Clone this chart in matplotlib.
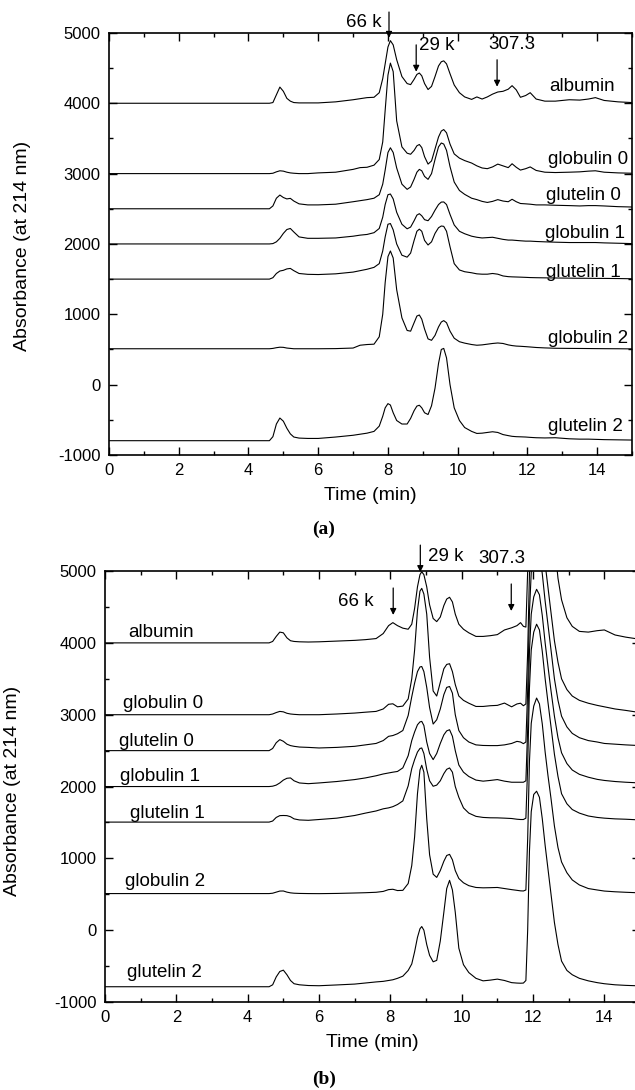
import matplotlib
matplotlib.use("Agg")
import matplotlib.pyplot as plt
from matplotlib.ticker import MultipleLocator

plt.rcParams['font.family'] = ['Liberation Sans', 'DejaVu Sans']
plt.rcParams['axes.unicode_minus'] = False

names = ['albumin', 'globulin 0', 'glutelin 0', 'globulin 1',
         'glutelin 1', 'globulin 2', 'glutelin 2']

# ---- panel (a): absorbance (offset traces)
time_a = [0, 4.6, 4.7, 4.8, 4.9, 5.0, 5.1, 5.2, 5.3, 5.45,
          5.7, 6.0, 6.5, 7.0, 7.2, 7.4, 7.6, 7.75, 7.85, 7.92,
          8.0, 8.07, 8.15, 8.25, 8.4, 8.55, 8.65, 8.75, 8.83, 8.9,
          8.97, 9.05, 9.15, 9.25, 9.35, 9.45, 9.53, 9.6, 9.68, 9.78,
          9.9, 10.05, 10.2, 10.4, 10.55, 10.7, 10.85, 11.0, 11.15, 11.3,
          11.45, 11.56, 11.68, 11.8, 11.95, 12.08, 12.25, 12.5, 12.8, 13.2,
          13.5, 13.75, 13.95, 14.2, 14.6, 15.0]

a_albumin = [4000, 4000, 4010, 4120, 4230, 4170, 4070, 4030, 4010, 4005,
             4005, 4005, 4020, 4050, 4065, 4080, 4085, 4150, 4350, 4560,
             4800, 4890, 4830, 4620, 4380, 4280, 4265, 4340, 4410, 4430,
             4390, 4280, 4195, 4240, 4380, 4530, 4590, 4603, 4560, 4420,
             4260, 4150, 4090, 4055, 4090, 4060, 4090, 4130, 4160, 4170,
             4200, 4250, 4190, 4085, 4110, 4150, 4060, 4030, 4030, 4050,
             4045, 4060, 4080, 4040, 4020, 4010]
a_globulin0 = [3000, 3000, 3005, 3025, 3040, 3035, 3020, 3010, 3005, 3000,
               3000, 3010, 3020, 3060, 3085, 3090, 3120, 3200, 3450, 3900,
               4400, 4571, 4450, 3750, 3380, 3290, 3275, 3330, 3395, 3414,
               3370, 3240, 3135, 3180, 3350, 3520, 3605, 3626, 3580, 3420,
               3280, 3220, 3185, 3150, 3110, 3080, 3070, 3095, 3135, 3110,
               3085, 3140, 3090, 3050, 3070, 3095, 3045, 3020, 3015, 3020,
               3025, 3035, 3040, 3020, 3010, 3005]
a_glutelin0 = [2500, 2500, 2540, 2650, 2695, 2660, 2640, 2648, 2610, 2570,
               2555, 2555, 2565, 2600, 2615, 2630, 2650, 2700, 2850, 3050,
               3300, 3367, 3300, 3080, 2850, 2776, 2810, 2920, 3020, 3060,
               3040, 2960, 2918, 3000, 3200, 3380, 3435, 3420, 3330, 3100,
               2880, 2760, 2705, 2650, 2630, 2605, 2590, 2605, 2630, 2610,
               2600, 2635, 2600, 2575, 2570, 2565, 2555, 2555, 2550, 2545,
               2540, 2545, 2545, 2540, 2530, 2525]
a_globulin1 = [2000, 2000, 2005, 2030, 2080, 2150, 2205, 2220, 2170, 2100,
               2080, 2080, 2085, 2110, 2125, 2135, 2160, 2220, 2380, 2560,
               2700, 2710, 2640, 2450, 2280, 2215, 2240, 2330, 2410, 2430,
               2400, 2345, 2330, 2390, 2480, 2560, 2595, 2597, 2560, 2420,
               2270, 2180, 2145, 2110, 2095, 2085, 2090, 2095, 2080, 2065,
               2055, 2055, 2050, 2045, 2040, 2040, 2035, 2030, 2025, 2020,
               2020, 2020, 2020, 2015, 2010, 2005]
a_glutelin1 = [1500, 1500, 1520, 1580, 1615, 1625, 1645, 1652, 1620, 1580,
               1568, 1565, 1575, 1600, 1620, 1640, 1667, 1720, 1900, 2100,
               2280, 2290, 2200, 2000, 1840, 1812, 1870, 2050, 2180, 2210,
               2180, 2050, 1985, 2030, 2150, 2230, 2255, 2250, 2180, 1960,
               1720, 1630, 1605, 1590, 1575, 1570, 1570, 1580, 1570, 1545,
               1535, 1532, 1530, 1528, 1525, 1522, 1520, 1518, 1516, 1514,
               1512, 1512, 1510, 1510, 1508, 1505]
a_globulin2 = [510, 510, 515, 525, 532, 530, 520, 515, 510, 510,
               510, 510, 512, 520, 560, 570, 575, 680, 1000, 1450,
               1820, 1900, 1800, 1350, 950, 770, 760, 880, 975, 990,
               930, 790, 650, 630, 700, 820, 890, 910, 880, 760,
               660, 610, 590, 570, 560, 565, 575, 585, 592, 585,
               565, 555, 548, 545, 540, 535, 528, 522, 517, 515,
               514, 513, 512, 511, 510, 508]
a_glutelin2 = [-797, -797, -740, -560, -475, -520, -620, -700, -745, -760,
               -765, -765, -745, -720, -705, -690, -665, -590, -450, -330,
               -270, -290, -400, -510, -560, -560, -480, -370, -305, -293,
               -330, -400, -425, -300, -50, 300, 500, 515, 380, 0,
               -330, -510, -610, -665, -694, -690, -680, -670, -680, -710,
               -725, -735, -740, -742, -745, -750, -755, -758, -755, -770,
               -775, -775, -778, -782, -785, -788]

# ---- panel (b)
time_b = [0, 4.6, 4.7, 4.8, 4.9, 5.0, 5.1, 5.2, 5.3, 5.45,
          5.7, 6.0, 6.5, 7.0, 7.3, 7.6, 7.8, 7.95, 8.07, 8.2,
          8.35, 8.5, 8.6, 8.68, 8.76, 8.83, 8.88, 8.94, 9.02, 9.1,
          9.2, 9.3, 9.4, 9.5, 9.58, 9.66, 9.74, 9.82, 9.92, 10.05,
          10.2, 10.4, 10.6, 10.8, 11.0, 11.2, 11.4, 11.55, 11.65, 11.73,
          11.8, 11.85, 11.9, 11.95, 12.02, 12.1, 12.18, 12.26, 12.34, 12.42,
          12.5, 12.6, 12.7, 12.8, 12.95, 13.1, 13.3, 13.55, 13.8, 14.0,
          14.3, 14.6, 15.0]

b_albumin = [4000, 4000, 4020, 4090, 4150, 4140, 4070, 4030, 4020, 4015,
             4012, 4015, 4025, 4035, 4045, 4060, 4130, 4240, 4282, 4240,
             4205, 4190, 4260, 4480, 4780, 4950, 4990, 4950, 4780, 4530,
             4340, 4296, 4360, 4520, 4610, 4635, 4570, 4400, 4260, 4190,
             4140, 4090, 4090, 4100, 4115, 4180, 4210, 4240, 4282, 4230,
             4220, 5000, 6300, 7200, 7700, 7900, 7850, 7600, 7200, 6700,
             6100, 5400, 4900, 4600, 4350, 4230, 4160, 4150, 4170, 4180,
             4110, 4080, 4050]
b_globulin0 = [3000, 3000, 3010, 3030, 3046, 3040, 3020, 3010, 3005, 3000,
               3000, 3000, 3010, 3023, 3035, 3046, 3080, 3145, 3152, 3110,
               3120, 3220, 3500, 3900, 4450, 4720, 4759, 4680, 4400, 3800,
               3330, 3260, 3450, 3640, 3700, 3710, 3600, 3420, 3260, 3200,
               3160, 3115, 3115, 3125, 3130, 3162, 3110, 3150, 3160, 3125,
               3150, 3870, 4960, 5500, 5750, 5865, 5780, 5480, 5100, 4770,
               4440, 4030, 3730, 3500, 3350, 3260, 3200, 3160, 3130, 3110,
               3080, 3060, 3030]
b_glutelin0 = [2500, 2500, 2530, 2610, 2653, 2630, 2590, 2570, 2560, 2550,
               2545, 2537, 2545, 2560, 2580, 2600, 2640, 2699, 2710, 2735,
               2780, 2990, 3250, 3440, 3600, 3665, 3671, 3600, 3380, 3100,
               2870, 2930, 3080, 3280, 3380, 3393, 3300, 3000, 2780, 2680,
               2620, 2580, 2572, 2570, 2570, 2580, 2600, 2629, 2620, 2597,
               2620, 3340, 4430, 4980, 5220, 5340, 5260, 4960, 4580, 4250,
               3920, 3500, 3200, 2980, 2830, 2740, 2680, 2640, 2620, 2600,
               2590, 2580, 2570]
b_globulin1 = [2000, 2000, 2005, 2020, 2050, 2090, 2115, 2120, 2080, 2050,
               2040, 2050, 2070, 2097, 2120, 2150, 2175, 2189, 2200, 2210,
               2260, 2430, 2640, 2760, 2860, 2900, 2907, 2850, 2620, 2460,
               2375, 2460, 2600, 2720, 2775, 2791, 2700, 2500, 2300, 2200,
               2140, 2090, 2075, 2085, 2097, 2075, 2060, 2060, 2060, 2060,
               2080, 2800, 3880, 4400, 4640, 4746, 4670, 4380, 4000, 3670,
               3350, 2980, 2680, 2470, 2320, 2230, 2170, 2130, 2100, 2085,
               2070, 2060, 2050]
b_glutelin1 = [1505, 1505, 1520, 1570, 1595, 1597, 1595, 1580, 1550, 1535,
               1530, 1541, 1560, 1597, 1630, 1660, 1690, 1703, 1720, 1750,
               1800, 2010, 2250, 2375, 2480, 2530, 2537, 2460, 2240, 2080,
               2004, 2020, 2080, 2180, 2240, 2259, 2200, 2000, 1850, 1703,
               1630, 1585, 1570, 1565, 1564, 1560, 1555, 1545, 1541, 1541,
               1560, 2280, 3370, 3900, 4150, 4260, 4180, 3880, 3500, 3170,
               2850, 2450, 2140, 1900, 1760, 1680, 1630, 1590, 1570, 1560,
               1550, 1545, 1535]
b_globulin2 = [510, 510, 515, 530, 545, 546, 530, 520, 515, 512,
               510, 509, 512, 518, 522, 528, 540, 565, 570, 552,
               555, 650, 900, 1300, 1900, 2230, 2296, 2200, 1550, 1050,
               780, 735, 830, 960, 1040, 1056, 980, 830, 720, 660,
               620, 595, 590, 592, 595, 580, 565, 555, 548, 546,
               560, 1270, 2350, 2880, 3120, 3232, 3150, 2870, 2480, 2150,
               1850, 1450, 1150, 950, 800, 700, 630, 580, 560, 545,
               535, 528, 520]
b_glutelin2 = [-787, -787, -760, -650, -575, -556, -620, -700, -745, -760,
               -770, -773, -762, -750, -735, -720, -712, -700, -690, -670,
               -640, -560, -470, -300, -100, 20, 51, 0, -200, -350,
               -440, -420, -150, 250, 580, 694, 560, 250, -250, -480,
               -590, -670, -705, -695, -681, -700, -730, -736, -738, -736,
               -700, 0, 1100, 1650, 1890, 1935, 1850, 1550, 1180, 850,
               520, 107, -200, -430, -560, -620, -670, -705, -730, -745,
               -760, -768, -775]

traces_a = [a_albumin, a_globulin0, a_glutelin0, a_globulin1,
            a_glutelin1, a_globulin2, a_glutelin2]
traces_b = [b_albumin, b_globulin0, b_glutelin0, b_globulin1,
            b_glutelin1, b_globulin2, b_glutelin2]

# trace labels: (time, absorbance) of text baseline
label_x_a = [12.62, 12.59, 12.54, 12.51, 12.54, 12.59, 12.59]
label_y_a = [4170, 3140, 2620, 2078, 1525, 595, -661]
label_x_b = [0.66, 0.49, 0.38, 0.43, 0.69, 0.57, 0.63]
label_y_b = [4088, 3093, 2560, 2074, 1565, 615, -657]

# markers: (text, text x, text y, ha, arrow x, arrow top, arrow tip)
marks_a = [('66 k', 7.83, 5142, 'right', 8.03, 5297, 4930),
           ('29 k', 8.89, 4816, 'left', 8.81, 4830, 4448),
           ('307.3', 11.56, 4830, 'center', 11.13, 4618, 4235)]
marks_b = [('66 k', 7.52, 4570, 'right', 8.08, 4764, 4389),
           ('29 k', 9.06, 5208, 'left', 8.84, 5361, 4986),
           ('307.3', 10.46, 5180, 'left', 11.39, 4820, 4444)]


def draw_panel(ax, t, traces, lx, ly, marks):
    for vals, name, x, y in zip(traces, names, lx, ly):
        ax.plot(t, vals, color='black', lw=0.8)
        ax.text(x, y, name, fontsize=13.5, va='baseline', ha='left')
    for txt, tx, ty, ha, axx, top, tip in marks:
        ax.text(tx, ty, txt, fontsize=13.5, ha=ha, va='center', clip_on=False)
        ax.annotate('', xy=(axx, tip), xytext=(axx, top), annotation_clip=False,
                    arrowprops=dict(arrowstyle='-|>', color='black', lw=0.9,
                                    mutation_scale=9, shrinkA=0, shrinkB=0))
    ax.set_xlim(0, 15)
    ax.set_ylim(-1000, 5000)
    ax.xaxis.set_major_locator(MultipleLocator(2))
    ax.xaxis.set_minor_locator(MultipleLocator(1))
    ax.yaxis.set_major_locator(MultipleLocator(1000))
    ax.yaxis.set_minor_locator(MultipleLocator(500))
    ax.tick_params(which='both', direction='in', top=True, right=True,
                   labelsize=12, width=1)
    ax.tick_params(which='major', length=6, pad=6)
    ax.tick_params(which='minor', length=3)
    for s in ax.spines.values():
        s.set_linewidth(1.2)
    ax.set_xlabel('Time (min)', fontsize=14, labelpad=6)
    ax.set_ylabel('Absorbance (at 214 nm)', fontsize=14)


fig = plt.figure(figsize=(6.35, 10.9), dpi=100)
ax_a = fig.add_axes([0.1717, 0.5826, 0.8236, 0.3872])
ax_b = fig.add_axes([0.1654, 0.0807, 0.8425, 0.3954])

draw_panel(ax_a, time_a, traces_a, label_x_a, label_y_a, marks_a)
draw_panel(ax_b, time_b, traces_b, label_x_b, label_y_b, marks_b)
ax_a.yaxis.set_label_coords(-0.15, 0.495)
ax_b.yaxis.set_label_coords(-0.158, 0.49)

fig.text(0.510, 0.5147, '(a)', fontsize=14, fontweight='bold',
         family=['Liberation Serif', 'DejaVu Serif'], ha='center', va='center')
fig.text(0.510, 0.0101, '(b)', fontsize=14, fontweight='bold',
         family=['Liberation Serif', 'DejaVu Serif'], ha='center', va='center')

fig.savefig('out.png', dpi=100)
